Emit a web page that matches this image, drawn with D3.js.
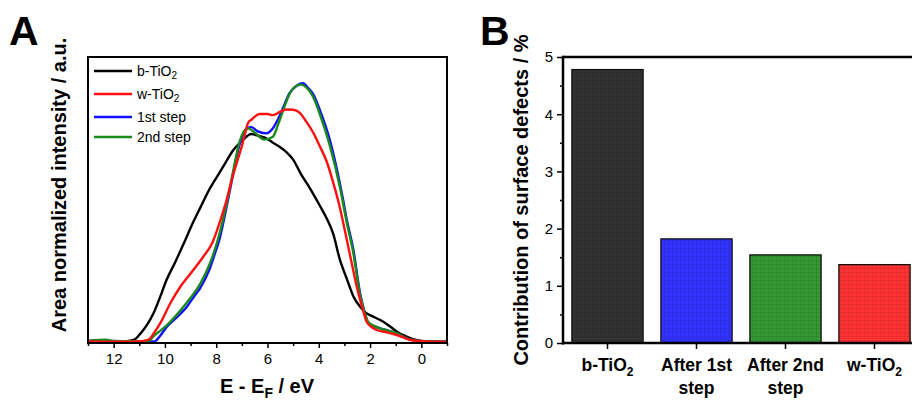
<!DOCTYPE html>
<html><head><meta charset="utf-8">
<script src="https://cdn.jsdelivr.net/npm/d3@7"></script>
<style>
body{margin:0;background:#fff}
svg{display:block;font-family:Arial,"Liberation Sans",sans-serif}
</style>
</head><body>
<svg id="c" width="912" height="400"></svg>
<script>
// ---------- Panel A data (energy in eV, area-normalized intensity a.u.) ----------
const bTiO2E = [13,12.6,12,11.5,11.2,11.0,10.7,10.45,10.2,9.95,9.6,9.27,8.9,8.6,8.3,7.9,7.6,7.36,7.0,6.8,6.64,6.3,6.05,5.8,5.53,5.25,5.0,4.7,4.35,4.0,3.7,3.44,3.18,2.9,2.65,2.4,2.2,1.9,1.6,1.3,0.95,0.6,0.3,0,-0.5,-1];
const bTiO2I = [0.003,0.006,0.002,0.003,0.008,0.025,0.06,0.10,0.155,0.215,0.28,0.345,0.42,0.475,0.53,0.59,0.635,0.67,0.705,0.722,0.73,0.722,0.715,0.70,0.685,0.665,0.64,0.59,0.54,0.485,0.435,0.38,0.29,0.22,0.16,0.125,0.105,0.09,0.077,0.06,0.036,0.02,0.009,0.004,0.002,0.001];

const wTiO2E = [13,12,11,10.64,10.4,10.18,9.79,9.4,8.87,8.5,8.14,7.88,7.62,7.36,6.97,6.75,6.64,6.31,6.0,5.79,5.5,5.27,5.0,4.75,4.5,4.22,3.96,3.70,3.44,3.2,2.91,2.7,2.52,2.3,2.13,1.9,1.74,1.4,1.09,0.7,0.43,0,-1];
const wTiO2I = [0.002,0.001,0.002,0.008,0.035,0.066,0.136,0.194,0.255,0.30,0.35,0.415,0.49,0.58,0.697,0.77,0.779,0.80,0.80,0.796,0.808,0.816,0.815,0.805,0.775,0.735,0.687,0.635,0.56,0.48,0.36,0.27,0.194,0.12,0.07,0.05,0.042,0.035,0.028,0.016,0.007,0.003,0.001];

const step1E = [13,12.5,12,11.5,11,10.4,10.2,9.92,9.5,9.14,8.9,8.62,8.27,8.09,7.88,7.56,7.36,7.10,6.84,6.64,6.4,6.05,5.79,5.6,5.40,5.14,4.85,4.62,4.4,4.22,3.96,3.57,3.18,3.05,2.91,2.65,2.39,2.2,2.07,1.8,1.61,1.3,0.95,0.5,0,-1];
const step1I = [0.004,0.003,0.004,0.002,0.001,0.002,0.02,0.054,0.09,0.124,0.155,0.19,0.253,0.30,0.358,0.49,0.58,0.69,0.745,0.755,0.74,0.732,0.75,0.78,0.82,0.873,0.90,0.908,0.89,0.87,0.814,0.709,0.557,0.498,0.43,0.323,0.171,0.10,0.066,0.054,0.048,0.04,0.030,0.01,0.003,0.001];

const step2E = [13,12.3,12,11.5,11,10.6,10.45,10.1,9.8,9.4,9.0,8.62,8.27,7.9,7.56,7.36,7.10,6.77,6.5,6.12,5.79,5.6,5.40,5.14,4.85,4.7,4.4,4.22,3.96,3.57,3.18,2.91,2.65,2.39,2.2,2.07,1.8,1.61,1.3,0.95,0.5,0,-1];
const step2I = [0.003,0.008,0.003,0.003,0.002,0.005,0.02,0.045,0.07,0.11,0.155,0.205,0.27,0.37,0.50,0.59,0.70,0.75,0.735,0.71,0.72,0.76,0.81,0.87,0.90,0.903,0.885,0.86,0.80,0.69,0.545,0.42,0.31,0.165,0.10,0.07,0.055,0.048,0.04,0.030,0.01,0.003,0.001];

const seriesNames = ["b-TiO2","w-TiO2","1st step","2nd step"];
const seriesColors = ["#000000","#ff1010","#1010ff","#1a8a1a"];
const xTicksMajor = [12,10,8,6,4,2,0];
const xTicksMinor = [13,11,9,7,5,3,1,-1];

// ---------- Panel B data ----------
const barCategories = ["b-TiO2","After 1st step","After 2nd step","w-TiO2"];
const barValues = [4.78,1.82,1.54,1.37];
const barColors = ["#333333","#3333ff","#339933","#ff3333"];
const yTicksB = [0,1,2,3,4,5];
const yTicksBMinor = [0.5,1.5,2.5,3.5,4.5];

const svg = d3.select("#c");

// ================= Panel A =================
const xA = d3.scaleLinear().domain([13,-1]).range([88,447]);
const yA = d3.scaleLinear().domain([0,1]).range([342,57]);

const gA = svg.append("g");
const spectra = [
  {E:bTiO2E, I:bTiO2I, c:seriesColors[0]},
  {E:step1E, I:step1I, c:seriesColors[2]},
  {E:step2E, I:step2I, c:seriesColors[3]},
  {E:wTiO2E, I:wTiO2I, c:seriesColors[1]}
];
const line = d3.line().x(d=>xA(d[0])).y(d=>yA(d[1])).curve(d3.curveMonotoneX);
spectra.forEach(s=>{
  gA.append("path").datum(s.E.map((e,i)=>[e,s.I[i]]))
    .attr("d",line).attr("fill","none").attr("stroke",s.c)
    .attr("stroke-width",2.4).attr("stroke-linejoin","round");
});

// frame
gA.append("rect").attr("x",xA(13)).attr("y",yA(1)).attr("width",xA(-1)-xA(13)).attr("height",yA(0)-yA(1)+1)
  .attr("fill","none").attr("stroke","#000").attr("stroke-width",2);

// x axis
const axA = gA.append("g").attr("transform",`translate(0,${yA(0)+1})`)
  .call(d3.axisBottom(xA).tickValues(xTicksMajor).tickSize(5).tickSizeOuter(0).tickPadding(5));
axA.select(".domain").remove();
axA.selectAll(".tick line").attr("stroke-width",1.5);
axA.selectAll("text").attr("font-size",15).attr("font-family","Arial, 'Liberation Sans', sans-serif").attr("fill","#000");
const axAm = gA.append("g").attr("transform",`translate(0,${yA(0)+1})`)
  .call(d3.axisBottom(xA).tickValues(xTicksMinor).tickSize(3).tickFormat(""));
axAm.select(".domain").remove();
axAm.selectAll(".tick line").attr("stroke-width",1.5);

// axis titles A
const xtA = gA.append("text").attr("x",267).attr("y",393).attr("text-anchor","middle")
  .attr("font-size",20).attr("font-weight","bold");
xtA.append("tspan").text("E - E");
xtA.append("tspan").text("F").attr("font-size",14).attr("dy",5);
xtA.append("tspan").text(" / eV").attr("dy",-5);

gA.append("text").attr("transform","translate(66,185) rotate(-90)").attr("text-anchor","middle")
  .attr("font-size",20).attr("font-weight","bold").text("Area normalized intensity / a.u.");

// legend
const legY = [71,94,117,137];
const legOrder = [0,1,2,3];
legOrder.forEach((k,i)=>{
  gA.append("line").attr("x1",94).attr("x2",132).attr("y1",legY[i]).attr("y2",legY[i])
    .attr("stroke",seriesColors[k]).attr("stroke-width",2.4);
  const t = gA.append("text").attr("x",137).attr("y",legY[i]+5).attr("font-size",14);
  const nm = seriesNames[k];
  if(nm.endsWith("2") && nm.includes("TiO")){
    t.append("tspan").text(nm.slice(0,-1));
    t.append("tspan").text("2").attr("font-size",10).attr("dy",3);
  } else t.text(nm);
});

// panel label
svg.append("text").attr("x",9).attr("y",45).attr("font-size",41).attr("font-weight","bold").text("A");

// ================= Panel B =================
const xB = d3.scaleBand().domain(barCategories).range([563,919]).paddingInner(0.2).paddingOuter(0.1);
const yB = d3.scaleLinear().domain([0,5]).range([343,57]);
const gB = svg.append("g");

const defs = svg.append("defs");
barColors.forEach((c,i)=>{
  const p = defs.append("pattern").attr("id","pat"+i).attr("patternUnits","userSpaceOnUse")
    .attr("width",4).attr("height",4);
  p.append("rect").attr("width",4).attr("height",4).attr("fill",c);
  p.append("path").attr("d","M0,0.5H4M0.5,0V4").attr("stroke","#000").attr("stroke-opacity",0.08).attr("stroke-width",1);
});

gB.selectAll("rect.bar").data(barValues).join("rect").attr("class","bar")
  .attr("x",(d,i)=>xB(barCategories[i])).attr("width",xB.bandwidth())
  .attr("y",d=>yB(d)).attr("height",d=>yB(0)-yB(d))
  .attr("fill",(d,i)=>`url(#pat${i})`).attr("stroke","#111").attr("stroke-width",1.3);

// top border
gB.append("line").attr("x1",563).attr("x2",912).attr("y1",yB(5)).attr("y2",yB(5))
  .attr("stroke","#000").attr("stroke-width",2.5);

// y axis
const ayB = gB.append("g").attr("transform","translate(563,0)")
  .call(d3.axisLeft(yB).tickValues(yTicksB).tickFormat(d3.format("d")).tickSize(6).tickSizeOuter(0).tickPadding(4));
ayB.select(".domain").attr("stroke-width",2.5).attr("d",`M0,${yB(0)+1.5}V${yB(5)-1.2}`);
ayB.selectAll(".tick line").attr("stroke-width",1.5);
ayB.selectAll("text").attr("font-size",15).attr("font-family","Arial, 'Liberation Sans', sans-serif").attr("fill","#000");
const ayBm = gB.append("g").attr("transform","translate(563,0)")
  .call(d3.axisLeft(yB).tickValues(yTicksBMinor).tickSize(3).tickFormat(""));
ayBm.select(".domain").remove();
ayBm.selectAll(".tick line").attr("stroke-width",1.5);

// x axis B
const axB = gB.append("g").attr("transform",`translate(0,${yB(0)})`)
  .call(d3.axisBottom(xB).tickSize(6).tickSizeOuter(0).tickFormat(""));
axB.select(".domain").attr("stroke-width",2.5).attr("d","M562,0H912");
axB.selectAll(".tick line").attr("stroke-width",1.5);

// category labels
barCategories.forEach(c=>{
  const cx = xB(c)+xB.bandwidth()/2;
  const t = gB.append("text").attr("x",cx).attr("y",371).attr("text-anchor","middle")
    .attr("font-size",17.5).attr("font-weight","bold");
  if(c.endsWith("TiO2")){
    t.append("tspan").text(c.slice(0,-1));
    t.append("tspan").text("2").attr("font-size",12).attr("dy",5);
  } else {
    const parts = c.split(" ");
    t.append("tspan").attr("x",cx).text(parts.slice(0,2).join(" "));
    t.append("tspan").attr("x",cx).attr("dy",23).text(parts.slice(2).join(" "));
  }
});

gB.append("text").attr("transform","translate(528,200) rotate(-90)").attr("text-anchor","middle")
  .attr("font-size",20).attr("font-weight","bold").text("Contribution of surface defects / %");

svg.append("text").attr("x",480).attr("y",45).attr("font-size",41).attr("font-weight","bold").text("B");
</script>
</body></html>
